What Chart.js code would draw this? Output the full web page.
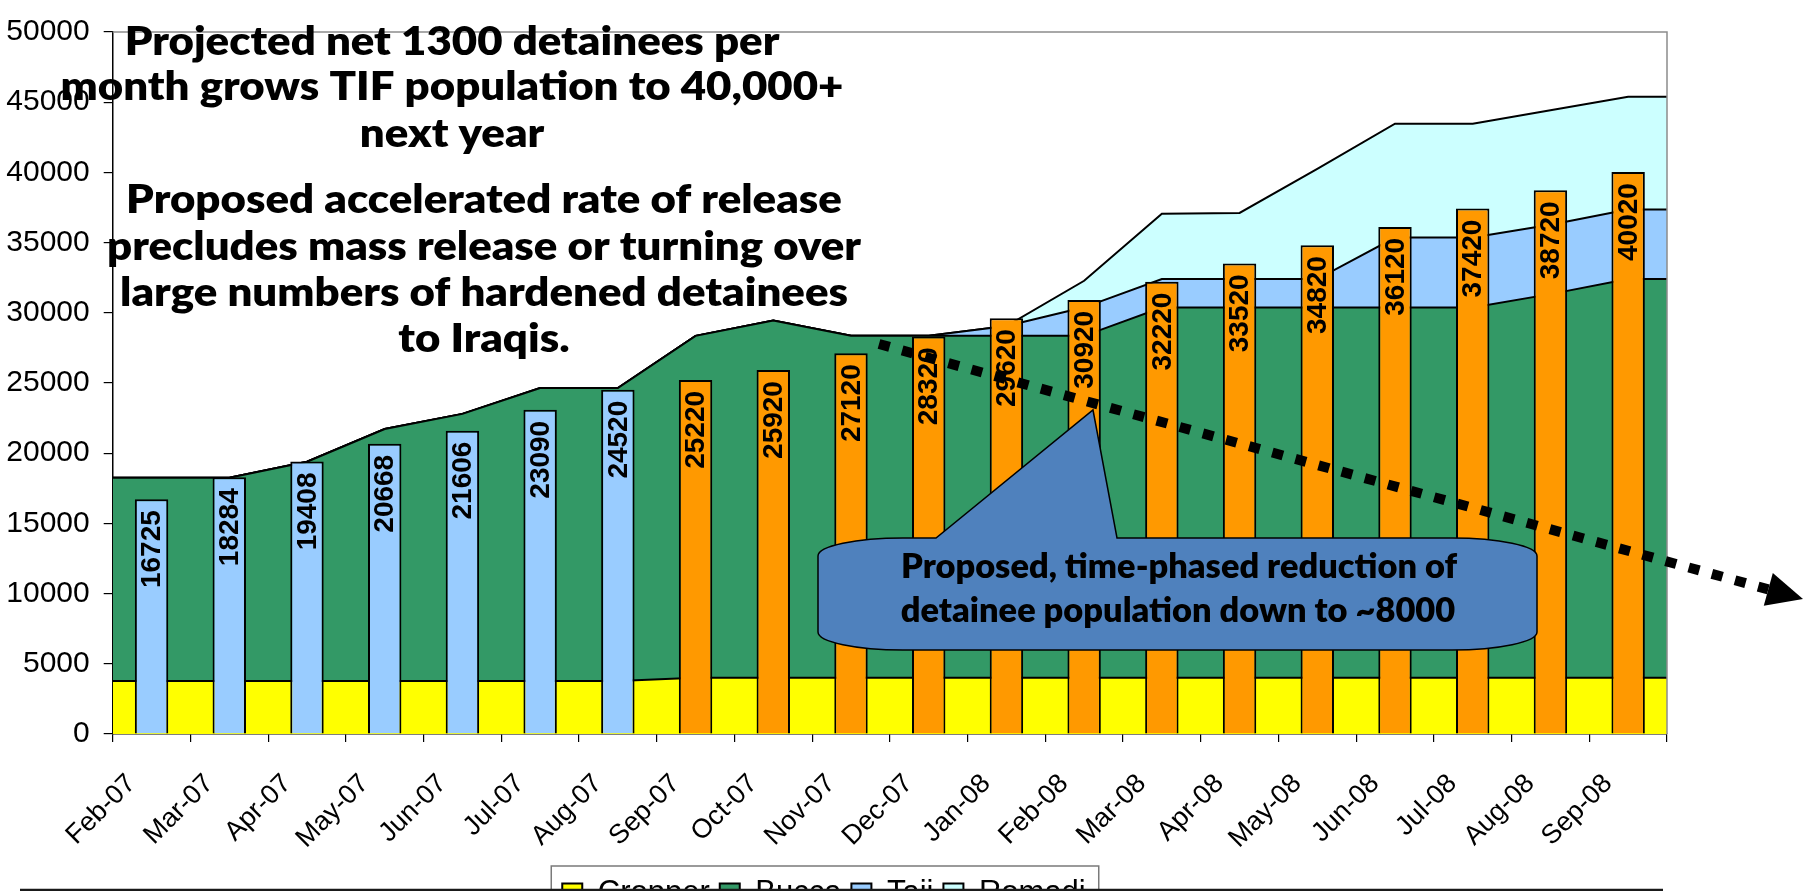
<!DOCTYPE html>
<html>
<head>
<meta charset="utf-8">
<title>TIF detainee population</title>
<script src="https://cdn.jsdelivr.net/npm/chart.js@4.4.1/dist/chart.umd.min.js"></script>
<style>
  html, body { margin: 0; padding: 0; background: #fff; overflow: hidden; }
  #wrap { width: 1805px; height: 891px; overflow: hidden; }
</style>
</head>
<body>
<div id="wrap"><canvas id="tifChart" width="1805" height="919"></canvas></div>
<script>
// data
const months = ['Feb-07', 'Mar-07', 'Apr-07', 'May-07', 'Jun-07', 'Jul-07', 'Aug-07', 'Sep-07', 'Oct-07', 'Nov-07',
    'Dec-07', 'Jan-08', 'Feb-08', 'Mar-08', 'Apr-08', 'May-08', 'Jun-08', 'Jul-08', 'Aug-08', 'Sep-08'];
const cropper = [3770, 3770, 3770, 3770, 3770, 3770, 3770, 4000, 4000, 4000, 4000, 4000, 4000, 4000, 4000, 4000, 4000, 4000, 4000, 4000];
const bucca = [14480, 14480, 15620, 17950, 19030, 20870, 20870, 24360, 25450, 24360, 24360, 24360, 24360, 26370, 26370, 26370, 26370, 26370, 27330, 28400];
const taji = [0, 0, 0, 0, 0, 0, 0, 0, 0, 0, 0, 700, 2030, 2030, 2030, 2030, 4990, 4990, 4940, 4960];
const romadi = [0, 0, 0, 0, 0, 0, 0, 0, 0, 0, 0, 0, 1890, 4660, 4710, 7850, 8110, 8110, 8150, 8020];
const totals = [16725, 18284, 19408, 20668, 21606, 23090, 24520, 25220, 25920, 27120, 28320, 29620, 30920, 32220,
    33520, 34820, 36120, 37420, 38720, 40020];
const actualCount = 7; // first 7 months are actuals (blue), rest projected (orange)
const yMin = 0;
const yMax = 50000;
const yStep = 5000;

const titleLines = ['Projected net 1300 detainees per', 'month grows TIF population to 40,000+', 'next year',
    'Proposed accelerated rate of release', 'precludes mass release or turning over',
    'large numbers of hardened detainees', 'to Iraqis.'];
const calloutLines = ['Proposed, time-phased reduction of', 'detainee population down to ~8000'];

const axisFont = '"Liberation Sans", Arial, sans-serif';
const slideFont = 'Lato, "Open Sans", sans-serif';
const barColors = totals.map((v, i) => i < actualCount ? '#99CCFF' : '#FF9900');

// areas run flat out to the plot edges, like the excel original
function edgePoints(values) {
    let pts = values.map((v, i) => ({ x: i, y: v }));
    pts.unshift({ x: -0.5, y: values[0] });
    pts.push({ x: values.length - 0.5, y: values[values.length - 1] });
    return pts;
}

function area(label, values, color, fill) {
    return {
        type: 'line',
        label: label,
        data: edgePoints(values),
        backgroundColor: color,
        borderColor: '#000',
        borderWidth: 2,
        fill: fill,
        tension: 0,
        pointRadius: 0,
        pointHoverRadius: 0,
        order: 1,
        stack: 'sites',
        xAxisID: 'xa'
    };
}

// rotated totals inside the top of each bar
const barLabels = {
    id: 'barLabels',
    afterDatasetsDraw(chart) {
        const ctx = chart.ctx;
        const meta = chart.getDatasetMeta(0);
        ctx.save();
        ctx.font = 'bold 28px ' + axisFont;
        ctx.fillStyle = '#000';
        ctx.textAlign = 'right';
        ctx.textBaseline = 'middle';
        meta.data.forEach((bar, i) => {
            ctx.save();
            ctx.translate(bar.x + 1, bar.y + 11);
            ctx.rotate(-Math.PI / 2);
            ctx.fillText(String(totals[i]), 0, 0);
            ctx.restore();
        });
        ctx.restore();
    }
};

function drawScaled(ctx, text, cx, baseline, sx) {
    ctx.save();
    ctx.translate(cx, baseline);
    ctx.scale(sx, 1);
    ctx.fillText(text, 0, 0);
    ctx.restore();
}

// slide overlays: frame, legend box, text blocks, callout, dotted arrow
const overlay = {
    id: 'overlay',
    afterDraw(chart) {
        const ctx = chart.ctx;
        const a = chart.chartArea;
        ctx.save();

        // plot frame top + right
        ctx.strokeStyle = '#8c8c8c';
        ctx.lineWidth = 1.5;
        ctx.beginPath();
        ctx.moveTo(a.left, a.top);
        ctx.lineTo(a.right, a.top);
        ctx.lineTo(a.right, a.bottom);
        ctx.stroke();

        // legend frame
        const lg = chart.legend;
        const hb = lg.legendHitBoxes;
        if (hb && hb.length) {
            const last = hb[hb.length - 1];
            const lx = hb[0].left - 11;
            const rx = last.left + last.width + 13;
            ctx.strokeStyle = '#7a7a7a';
            ctx.lineWidth = 1.5;
            ctx.strokeRect(lx, lg.top - 2, rx - lx, 80);
        }

        // rule along the bottom of the slide
        ctx.strokeStyle = '#1a1a1a';
        ctx.lineWidth = 2.5;
        ctx.beginPath();
        ctx.moveTo(20, 890);
        ctx.lineTo(1663, 890);
        ctx.stroke();

        // headline text
        ctx.fillStyle = '#000';
        ctx.textAlign = 'center';
        ctx.textBaseline = 'alphabetic';
        ctx.font = '800 40px ' + slideFont;
        const sx = 783 / ctx.measureText(titleLines[1]).width;
        const tx = [452, 452, 452, 484, 484, 484, 484];
        const ty = [55, 100, 147, 213, 260, 306, 352];
        titleLines.forEach((t, i) => drawScaled(ctx, t, tx[i], ty[i], sx));

        // callout bubble
        const L = 818, R = 1537, T = 538, B = 650, erx = 85, ery = 18;
        ctx.beginPath();
        ctx.moveTo(L + erx, T);
        ctx.lineTo(936, T);
        ctx.lineTo(1093, 410);
        ctx.lineTo(1117, T);
        ctx.lineTo(R - erx, T);
        ctx.ellipse(R - erx, T + ery, erx, ery, 0, -Math.PI / 2, 0);
        ctx.lineTo(R, B - ery);
        ctx.ellipse(R - erx, B - ery, erx, ery, 0, 0, Math.PI / 2);
        ctx.lineTo(L + erx, B);
        ctx.ellipse(L + erx, B - ery, erx, ery, 0, Math.PI / 2, Math.PI);
        ctx.lineTo(L, T + ery);
        ctx.ellipse(L + erx, T + ery, erx, ery, 0, Math.PI, Math.PI * 1.5);
        ctx.closePath();
        ctx.fillStyle = '#4F81BD';
        ctx.fill();
        ctx.strokeStyle = '#000';
        ctx.lineWidth = 1.5;
        ctx.stroke();

        ctx.fillStyle = '#000';
        ctx.font = '800 34px ' + slideFont;
        const csx = 556 / ctx.measureText(calloutLines[0]).width;
        drawScaled(ctx, calloutLines[0], 1179, 578, csx);
        drawScaled(ctx, calloutLines[1], 1178, 622, csx);

        // dotted trend arrow
        const x0 = 879, y0 = 344, tipX = 1803, tipY = 599;
        const ang = Math.atan2(tipY - y0, tipX - x0);
        const headLen = 36, headHalf = 17;
        const bx = tipX - headLen * Math.cos(ang), by = tipY - headLen * Math.sin(ang);
        ctx.strokeStyle = '#000';
        ctx.lineWidth = 10;
        ctx.setLineDash([11, 13]);
        ctx.beginPath();
        ctx.moveTo(x0, y0);
        ctx.lineTo(bx, by);
        ctx.stroke();
        ctx.setLineDash([]);
        ctx.fillStyle = '#000';
        ctx.beginPath();
        ctx.moveTo(tipX, tipY);
        ctx.lineTo(bx - headHalf * Math.sin(ang), by + headHalf * Math.cos(ang));
        ctx.lineTo(bx + headHalf * Math.sin(ang), by - headHalf * Math.cos(ang));
        ctx.closePath();
        ctx.fill();

        ctx.restore();
    }
};

const tifChart = new Chart(document.getElementById('tifChart'), {
    type: 'bar',
    data: {
        labels: months,
        datasets: [
            {
                type: 'bar',
                label: 'Total',
                data: totals,
                backgroundColor: barColors,
                borderColor: '#000',
                borderWidth: 2,
                grouped: false,
                barPercentage: 0.43,
                categoryPercentage: 1,
                order: 0,
                xAxisID: 'x'
            },
            area('Cropper', cropper, '#FFFF00', 'origin'),
            area('Bucca', bucca, '#339966', '-1'),
            area('Taji', taji, '#99CCFF', '-1'),
            area('Romadi', romadi, '#CCFFFF', '-1')
        ]
    },
    options: {
        responsive: false,
        animation: false,
        devicePixelRatio: 1,
        layout: { padding: { left: -19, right: 138, top: 20, bottom: 0 } },
        plugins: {
            tooltip: { enabled: false },
            legend: {
                position: 'bottom',
                labels: {
                    filter: item => item.datasetIndex !== 0,
                    boxWidth: 20,
                    boxHeight: 20,
                    padding: 10,
                    color: '#000',
                    font: { family: axisFont, size: 31 }
                }
            }
        },
        scales: {
            x: {
                type: 'category',
                offset: true,
                z: 1,
                grid: { offset: true, drawOnChartArea: false, tickLength: 8, color: '#000', lineWidth: 1.2 },
                border: { display: true, color: '#000', width: 1.5 },
                ticks: {
                    autoSkip: false,
                    minRotation: 45,
                    maxRotation: 45,
                    padding: 26,
                    labelOffset: -20,
                    color: '#000',
                    font: { family: axisFont, size: 27 }
                },
                afterFit: scale => { scale.height = 134; }
            },
            xa: {
                type: 'linear',
                axis: 'x',
                position: 'bottom',
                display: false,
                offset: false,
                min: -0.5,
                max: months.length - 0.5
            },
            y: {
                stacked: true,
                min: yMin,
                max: yMax,
                z: 1,
                ticks: {
                    stepSize: yStep,
                    padding: 14,
                    color: '#000',
                    font: { family: axisFont, size: 30 },
                    callback: v => String(v)
                },
                grid: { drawOnChartArea: false, tickLength: 9, color: '#000', lineWidth: 1.2 },
                border: { color: '#000', width: 1.5 },
                afterFit: scale => { scale.width = 131.7; }
            }
        }
    },
    plugins: [barLabels, overlay]
});
</script>
</body>
</html>
